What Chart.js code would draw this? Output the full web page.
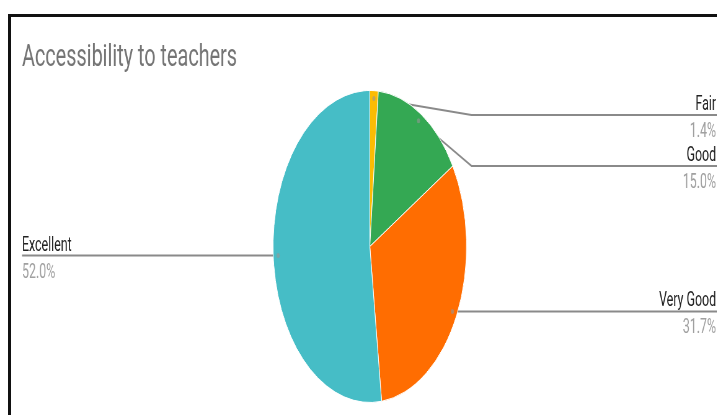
<!DOCTYPE html>
<html lang="en">
<head>
    <meta charset="utf-8" />
    <title>Accessibility to teachers</title>
    <style>
        html, body { margin: 0; padding: 0; background: #fff; overflow: hidden; }
        #wrap { position: relative; width: 717px; height: 415px; overflow: hidden; }
        /* chart is drawn wide, then squeezed horizontally like the screenshot */
        #Chart1 { position: absolute; left: 0; top: 0; transform: scaleX(0.62); transform-origin: 0 0; }
        #frame { position: absolute; left: 8px; top: 14px; width: 720px; height: 410px;
                 border-top: 3px solid #111; border-left: 3px solid #111; pointer-events: none; }
    </style>
</head>
<body>
    <div id="wrap">
        <canvas id="Chart1" width="1157" height="415"></canvas>
        <div id="frame"></div>
    </div>

    <script src="https://cdn.jsdelivr.net/npm/chart.js"></script>

    <script>
        const chartTitle = 'Accessibility to teachers';
        const categories = ['Fair', 'Good', 'Very Good', 'Excellent'];
        const percents = [1.4, 15.0, 31.7, 52.0];
        const sliceColors = ['#fbbc04', '#34a853', '#ff6d01', '#46bdc6'];

        const SQUEEZE = 0.62;

        // leader lines, dots and labels, Google Sheets style
        const pieLabels = {
            id: 'pieLabels',
            beforeDatasetsDraw(chart) {
                const ctx = chart.ctx;
                const arcs = chart.getDatasetMeta(0).data;
                const W = chart.width;
                let prevRight = -Infinity;
                const items = arcs.map((arc, i) => {
                    const mid = (arc.startAngle + arc.endAngle) / 2;
                    const r = arc.outerRadius * 0.95;
                    return {
                        i: i, arc: arc,
                        dx: arc.x + Math.cos(mid) * r,
                        dy: arc.y + Math.sin(mid) * r,
                        right: Math.cos(mid) >= 0
                    };
                });
                // place right-hand labels top to bottom
                items.filter(it => it.right).sort((a, b) => a.dy - b.dy).forEach(it => {
                    it.ly = Math.max(it.dy, prevRight + 51, 115);
                    prevRight = it.ly;
                });
                items.filter(it => !it.right).forEach(it => { it.ly = it.dy; });

                ctx.save();
                ctx.strokeStyle = '#8a8a8a';
                ctx.lineWidth = 2;
                items.forEach(it => {
                    ctx.beginPath();
                    ctx.moveTo(it.dx, it.dy);
                    if (it.right) {
                        const ex = it.arc.x + it.arc.outerRadius + 8;
                        if (Math.abs(it.ly - it.dy) > 1) ctx.lineTo(ex, it.ly);
                        ctx.lineTo(W, it.ly);
                    } else {
                        ctx.lineTo(22 / SQUEEZE, it.ly);
                    }
                    ctx.stroke();

                    const tx = it.right ? W - 2 : 22 / SQUEEZE;
                    ctx.textAlign = it.right ? 'right' : 'left';
                    ctx.textBaseline = 'alphabetic';
                    ctx.font = '20px Roboto';
                    ctx.fillStyle = '#222222';
                    ctx.fillText(categories[it.i], tx, it.ly - 5);
                    ctx.fillStyle = '#a0a0a0';
                    ctx.fillText(percents[it.i].toFixed(1) + '%', tx, it.ly + 22);
                });
                chart.$labelItems = items;
                ctx.restore();
            },
            afterDatasetsDraw(chart) {
                const ctx = chart.ctx;
                ctx.save();
                (chart.$labelItems || []).forEach(it => {
                    ctx.beginPath();
                    ctx.arc(it.dx, it.dy, 2.5, 0, Math.PI * 2);
                    ctx.fillStyle = 'rgba(150,150,150,0.6)';
                    ctx.fill();
                });
                // title
                ctx.font = '32px Roboto';
                ctx.fillStyle = '#757575';
                ctx.textAlign = 'left';
                ctx.textBaseline = 'alphabetic';
                ctx.fillText(chartTitle, 22 / SQUEEZE, 66);
                ctx.restore();
            }
        };

        const ctx = document.getElementById('Chart1').getContext('2d');
        const Chart1 = new Chart(ctx, {
            type: 'pie',
            data: {
                labels: categories,
                datasets: [{
                    data: percents,
                    backgroundColor: sliceColors,
                    borderColor: '#ffffff',
                    borderWidth: 1
                }]
            },
            options: {
                responsive: false,
                animation: false,
                devicePixelRatio: 1,
                layout: {
                    padding: { left: 440, right: 404, top: 90, bottom: 12 }
                },
                plugins: {
                    legend: { display: false },
                    tooltip: { enabled: false },
                    title: { display: false }
                }
            },
            plugins: [pieLabels]
        });
    </script>
</body>
</html>
